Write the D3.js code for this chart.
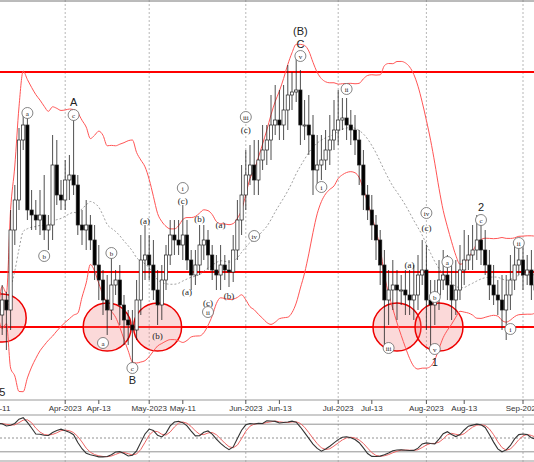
<!DOCTYPE html>
<html><head><meta charset="utf-8">
<script src="https://cdn.jsdelivr.net/npm/d3@7"></script>
<style>body{margin:0;background:#fff}svg{display:block}</style>
</head><body>
<svg id="chart" width="534" height="462"></svg>
<script>
'use strict';

// closing prices, one per weekday starting 2023-03-10 (chart units)
const CLOSES = [85,100,90,170,200,260,275,190,185,180,185,170,175,235,205,200,220,225,215,175,170,175,160,135,120,100,90,115,120,95,80,75,70,100,140,145,135,110,95,120,145,165,160,155,165,140,125,135,155,160,145,130,125,135,130,128,150,180,205,225,235,220,240,250,260,275,280,275,290,305,308,310,275,275,265,230,235,240,250,260,270,280,282,275,270,260,235,205,190,175,160,135,100,110,115,110,110,105,100,105,125,130,100,95,105,120,125,115,100,110,130,140,145,150,160,150,135,115,105,100,90,105,120,135,140,125,130,115,110];
// wick lengths above / below the body
const WICK_UP = [10,15,8,20,15,12,10,12,20,15,25,40,10,30,25,15,20,20,62,10,15,25,10,15,20,10,25,35,10,15,10,10,15,20,25,30,20,25,20,15,10,15,15,20,30,15,10,15,20,15,10,10,15,20,10,10,15,20,30,25,20,25,20,25,15,30,35,30,25,30,20,35,20,25,30,20,30,25,20,25,30,30,20,20,15,15,10,15,10,15,10,10,15,20,25,15,15,20,25,30,20,30,25,20,15,20,25,20,20,30,25,30,20,25,25,20,20,15,20,15,25,20,25,20,20,20,15,20,15];
const WICK_DN = [35,20,40,20,15,10,10,10,15,10,15,10,20,15,10,10,10,20,10,10,15,20,10,15,20,15,25,10,10,20,25,20,35,10,15,20,15,10,20,15,10,10,15,10,15,10,15,10,10,15,15,10,15,15,10,15,10,10,15,15,10,15,15,10,15,20,10,15,15,20,15,10,20,15,20,25,15,15,10,15,10,15,10,15,15,15,20,15,10,15,20,20,50,25,20,30,15,20,15,20,15,10,30,45,20,15,10,15,20,15,10,15,10,15,10,15,10,15,10,15,20,30,15,10,10,15,10,15,10];
const START = new Date(2023, 2, 10);

const TICKS = [
  ['2023-03-11', 'Mar-11'], ['2023-04-03', 'Apr-2023'], ['2023-04-13', 'Apr-13'],
  ['2023-05-01', 'May-2023'], ['2023-05-11', 'May-11'], ['2023-06-01', 'Jun-2023'],
  ['2023-06-13', 'Jun-13'], ['2023-07-03', 'Jul-2023'], ['2023-07-13', 'Jul-13'],
  ['2023-08-01', 'Aug-2023'], ['2023-08-14', 'Aug-13'], ['2023-09-01', 'Sep-2023']
];
const MONTH_LINES = ['2023-04-03', '2023-05-01', '2023-06-01', '2023-07-03', '2023-08-01', '2023-09-01'];
const LEVELS = [328, 128, 73];
// [bar index, price, text, circled]
const WAVES = [
  [7, 287, 'a', 1], [18, 285, 'c', 1], [18, 298, 'A', 0], [11, 144, 'b', 1],
  [27, 147, 'b', 1], [25, 57, 'a', 1], [32, 32, 'c', 1], [32, 20, 'B', 0], [38, 65, '(b)', 0],
  [35, 180, '(a)', 0], [44, 212, 'i', 1], [44, 200, '(c)', 0], [48, 182, '(b)', 0], [53, 176, '(a)', 0],
  [45, 109, '(a)', 0], [50, 98, '(c)', 0], [50, 88, 'ii', 1], [55, 105, '(b)', 0],
  [59, 283, 'iii', 1], [59, 271, '(c)', 0], [61, 164, 'iv', 1],
  [72, 369, '(B)', 0], [72, 356, 'C', 0], [72, 344, 'v', 1], [77, 213, 'i', 1], [83, 311, 'ii', 1],
  [102, 187, 'iv', 1], [102, 173, '(c)', 0], [115, 193, '2', 0], [115, 180, 'c', 1],
  [98, 136, '(a)', 0], [107, 138, 'a', 1], [93, 52, 'iii', 1], [104, 103, 'b', 1],
  [104, 51, 'v', 1], [104, 38, '1', 0], [124, 157, 'ii', 1], [122, 71, 'i', 1], [1, 8, '5', 0]
];
// [bar index, price] of the shaded circles
const RINGS = [[1, 82], [26, 73], [38, 73], [95, 73], [105, 73]];

function weekdays(n) {
  const out = [];
  const d = new Date(START);
  while (out.length < n) {
    if (d.getDay() !== 0 && d.getDay() !== 6) out.push(new Date(d));
    d.setDate(d.getDate() + 1);
  }
  return out;
}

const dates = weekdays(CLOSES.length);
const bars = CLOSES.map((c, i) => {
  const o = i ? CLOSES[i - 1] : c - 10;
  return { i, o, c, h: Math.max(o, c) + WICK_UP[i], l: Math.min(o, c) - WICK_DN[i] };
});

function dateIndex(s) {
  const t = new Date(s + 'T00:00:00');
  let best = 0;
  dates.forEach((d, i) => { if (Math.abs(d - t) < Math.abs(dates[best] - t)) best = i; });
  return best;
}

// bollinger 20, 2
const bands = bars.map((b, i) => {
  const win = CLOSES.slice(Math.max(0, i - 19), i + 1);
  const m = d3.mean(win), s = d3.deviation(win) || 0;
  return { i, m, up: m + 2 * s, dn: m - 2 * s };
});

// stochastic 14,3,3
const rawK = bars.map((b, i) => {
  const win = bars.slice(Math.max(0, i - 13), i + 1);
  const hh = d3.max(win, d => d.h), ll = d3.min(win, d => d.l);
  return 100 * (b.c - ll) / (hh - ll);
});
const kLine = rawK.map((v, i) => d3.mean(rawK.slice(Math.max(0, i - 2), i + 1)));
const dLine = kLine.map((v, i) => d3.mean(kLine.slice(Math.max(0, i - 2), i + 1)));

const svg = d3.select('#chart');
const x = d3.scaleLinear().domain([0, 1]).range([-2, 2.2]);
const y = d3.scaleLinear().domain([0, 400]).range([400, 0]);
const yo = d3.scaleLinear().domain([0, 100]).range([461, 415]);

svg.append('rect').attr('width', 534).attr('height', 462).attr('fill', '#fff');

svg.selectAll('.vgrid').data(MONTH_LINES).enter().append('line')
  .attr('x1', d => x(dateIndex(d))).attr('x2', d => x(dateIndex(d)))
  .attr('y1', 0).attr('y2', 462).attr('stroke', '#999').attr('stroke-dasharray', '2,2').attr('stroke-width', 0.7);

svg.append('line').attr('x1', 0).attr('x2', 534).attr('y1', 1).attr('y2', 1).attr('stroke', '#777');

svg.selectAll('.lvl').data(LEVELS).enter().append('line')
  .attr('x1', 0).attr('x2', 534).attr('y1', d => y(d)).attr('y2', d => y(d))
  .attr('stroke', '#f00').attr('stroke-width', 2);

svg.selectAll('.ring').data(RINGS).enter().append('circle')
  .attr('cx', d => x(d[0])).attr('cy', d => y(d[1])).attr('r', 24)
  .attr('fill', 'rgba(240,120,120,0.28)').attr('stroke', '#e00').attr('stroke-width', 1.5);

const line = key => d3.line().x(d => x(d.i)).y(d => y(d[key])).curve(d3.curveMonotoneX);
svg.append('path').datum(bands).attr('d', line('up')).attr('fill', 'none').attr('stroke', '#f55').attr('stroke-width', 1);
svg.append('path').datum(bands).attr('d', line('dn')).attr('fill', 'none').attr('stroke', '#f55').attr('stroke-width', 1);
svg.append('path').datum(bands).attr('d', line('m')).attr('fill', 'none').attr('stroke', '#888').attr('stroke-dasharray', '2,2').attr('stroke-width', 0.8);

const cg = svg.append('g');
cg.selectAll('.wick').data(bars).enter().append('line')
  .attr('x1', d => x(d.i)).attr('x2', d => x(d.i)).attr('y1', d => y(d.h)).attr('y2', d => y(d.l))
  .attr('stroke', '#222').attr('stroke-width', 0.8);
cg.selectAll('.body').data(bars).enter().append('rect')
  .attr('x', d => x(d.i) - 1.6).attr('width', 3.2)
  .attr('y', d => y(Math.max(d.o, d.c))).attr('height', d => Math.max(1, Math.abs(y(d.o) - y(d.c))))
  .attr('fill', d => d.c >= d.o ? '#fff' : '#000').attr('stroke', '#222').attr('stroke-width', 0.7);

const big = t => /^[A-Z0-9()]+$/.test(t) && /[A-Z0-9]/.test(t);
const wg = svg.selectAll('.wave').data(WAVES).enter().append('g')
  .attr('transform', d => `translate(${x(d[0])},${y(d[1])})`);
wg.filter(d => d[3]).append('circle').attr('r', 5.5).attr('fill', '#fff').attr('stroke', '#666').attr('stroke-width', 0.8);
wg.append('text').attr('text-anchor', 'middle').attr('dy', d => d[3] ? 2.5 : 3.5)
  .attr('font-family', d => big(d[2]) ? 'Liberation Sans' : 'Liberation Serif')
  .attr('font-size', d => d[3] ? 7 : (big(d[2]) ? 11 : 9))
  .attr('fill', '#222').text(d => d[2]);

// time axis
svg.append('line').attr('x1', 0).attr('x2', 534).attr('y1', 400).attr('y2', 400).attr('stroke', '#999');
svg.append('rect').attr('x', 0).attr('y', 401).attr('width', 534).attr('height', 14).attr('fill', '#fff');
const tg = svg.selectAll('.tick').data(TICKS).enter().append('g')
  .attr('transform', d => `translate(${x(dateIndex(d[0]))},400)`);
tg.append('line').attr('y1', 0).attr('y2', 4).attr('stroke', '#555');
tg.append('text').attr('y', 11).attr('text-anchor', 'middle').attr('font-family', 'Liberation Sans')
  .attr('font-size', 8).attr('fill', '#333').text(d => d[1]);

// oscillator pane
svg.append('line').attr('x1', 0).attr('x2', 534).attr('y1', 415).attr('y2', 415).attr('stroke', '#999');
svg.append('line').attr('x1', 0).attr('x2', 534).attr('y1', 461).attr('y2', 461).attr('stroke', '#999');
[80, 20].forEach(v => svg.append('line').attr('x1', 0).attr('x2', 534).attr('y1', yo(v)).attr('y2', yo(v)).attr('stroke', '#777').attr('stroke-width', 0.8));
svg.append('line').attr('x1', 0).attr('x2', 534).attr('y1', yo(50)).attr('y2', yo(50)).attr('stroke', '#777').attr('stroke-dasharray', '2,2').attr('stroke-width', 0.8);
const ol = d3.line().x((d, i) => x(i)).y(d => yo(d));
svg.append('path').datum(dLine).attr('d', ol).attr('fill', 'none').attr('stroke', '#e66').attr('stroke-width', 1);
svg.append('path').datum(kLine).attr('d', ol).attr('fill', 'none').attr('stroke', '#333').attr('stroke-width', 1.1);
</script>
</body></html>
